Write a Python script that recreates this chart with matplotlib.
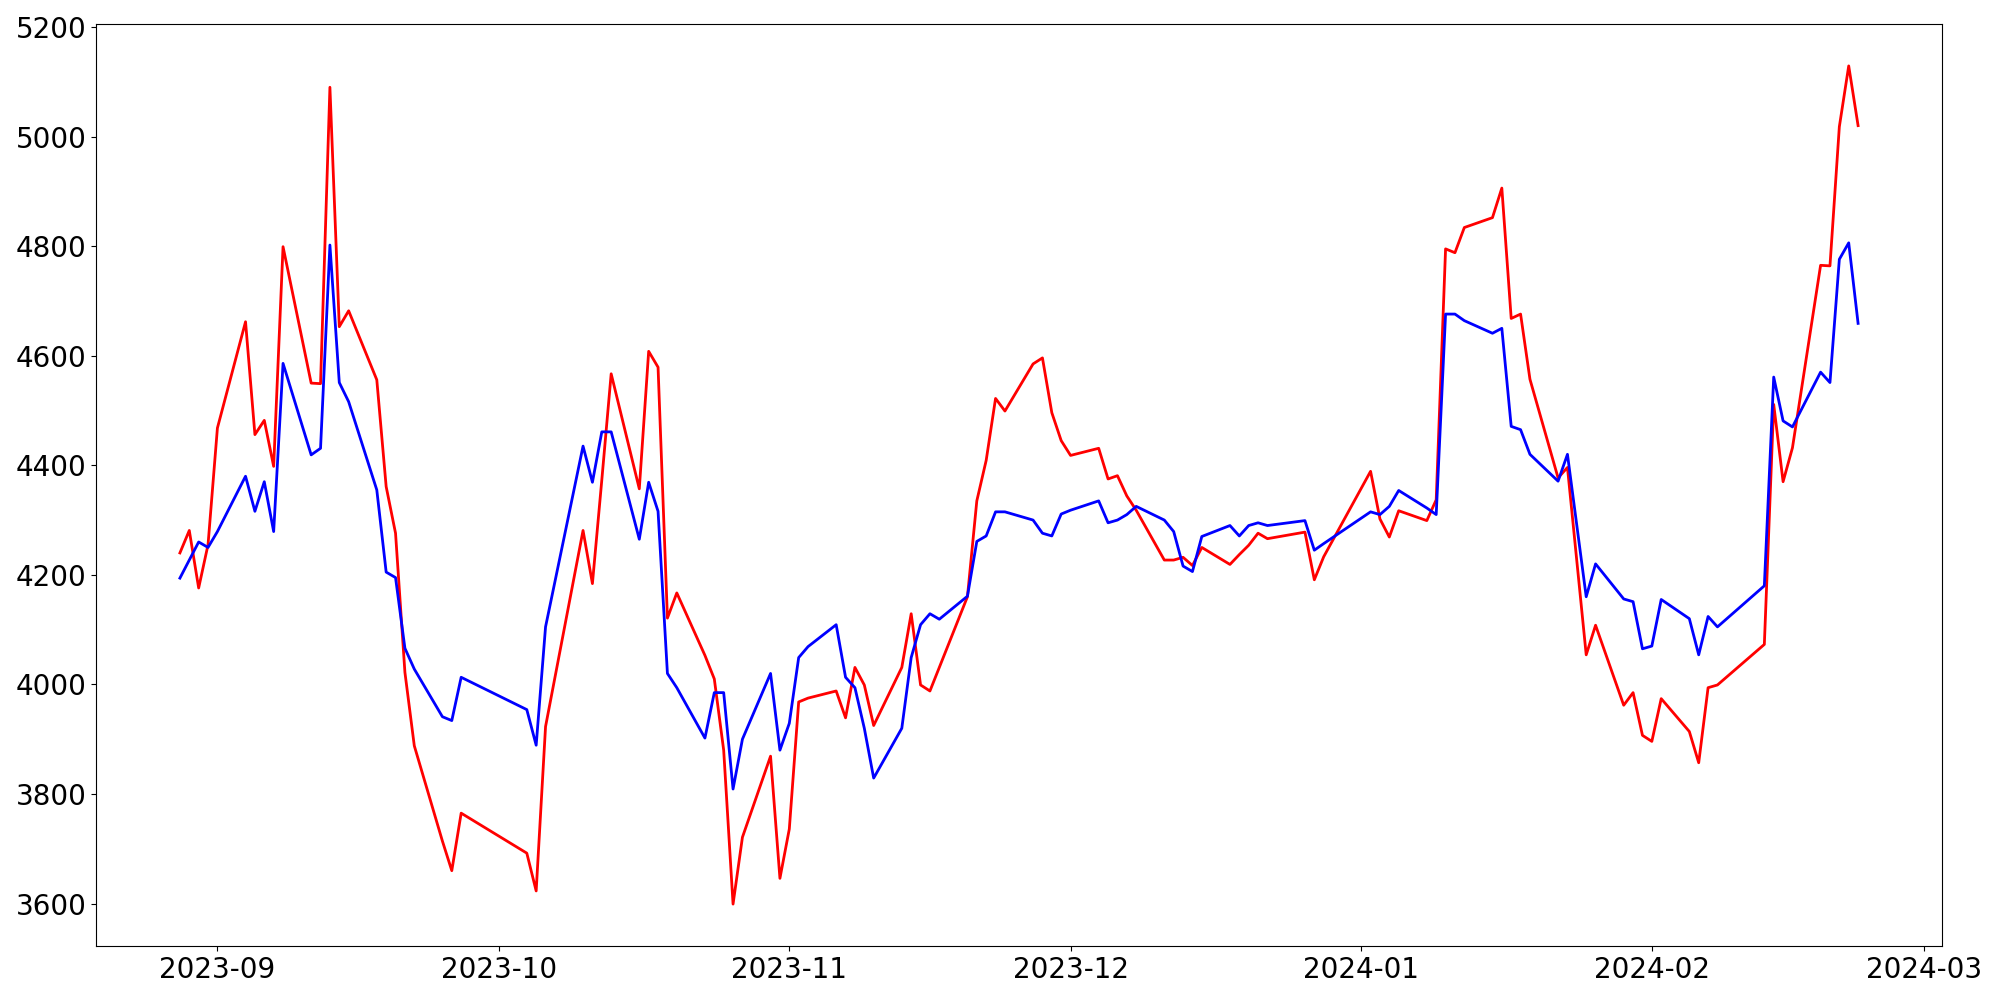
import pandas as pd
import matplotlib
matplotlib.use("Agg")
import matplotlib.pyplot as plt

# trading days (weekdays, some holidays / gaps skipped)
dates = [
    "2023-08-28", "2023-08-29", "2023-08-30", "2023-08-31", "2023-09-01",
    "2023-09-04", "2023-09-05", "2023-09-06", "2023-09-07", "2023-09-08",
    "2023-09-11", "2023-09-12", "2023-09-13", "2023-09-14", "2023-09-15",
    "2023-09-18", "2023-09-19", "2023-09-20", "2023-09-21", "2023-09-22",
    "2023-09-25", "2023-09-26", "2023-09-27",
    "2023-10-04", "2023-10-05", "2023-10-06",
    "2023-10-10", "2023-10-11", "2023-10-12", "2023-10-13",
    "2023-10-16", "2023-10-17", "2023-10-18", "2023-10-19", "2023-10-20",
    "2023-10-23", "2023-10-24", "2023-10-25", "2023-10-26", "2023-10-27",
    "2023-10-30", "2023-10-31", "2023-11-01", "2023-11-02", "2023-11-03",
    "2023-11-06", "2023-11-07", "2023-11-08", "2023-11-09", "2023-11-10",
    "2023-11-13", "2023-11-14", "2023-11-15", "2023-11-16", "2023-11-17",
    "2023-11-20", "2023-11-21", "2023-11-22", "2023-11-23", "2023-11-24",
    "2023-11-27", "2023-11-28", "2023-11-29", "2023-11-30", "2023-12-01",
    "2023-12-04", "2023-12-05", "2023-12-06", "2023-12-07", "2023-12-08",
    "2023-12-11", "2023-12-12", "2023-12-13", "2023-12-14", "2023-12-15",
    "2023-12-18", "2023-12-19", "2023-12-20", "2023-12-21", "2023-12-22",
    "2023-12-26", "2023-12-27", "2023-12-28",
    "2024-01-02", "2024-01-03", "2024-01-04", "2024-01-05",
    "2024-01-08", "2024-01-09", "2024-01-10", "2024-01-11", "2024-01-12",
    "2024-01-15", "2024-01-16", "2024-01-17", "2024-01-18", "2024-01-19",
    "2024-01-22", "2024-01-23", "2024-01-25", "2024-01-26",
    "2024-01-29", "2024-01-30", "2024-01-31", "2024-02-01", "2024-02-02",
    "2024-02-05", "2024-02-06", "2024-02-07", "2024-02-08",
    "2024-02-13", "2024-02-14", "2024-02-15", "2024-02-16",
    "2024-02-19", "2024-02-20", "2024-02-21", "2024-02-22", "2024-02-23",
]

red_vals = [
    4240, 4281, 4176, 4255, 4468,
    4662, 4456, 4482, 4398, 4799,
    4550, 4549, 5090, 4653, 4682,
    4556, 4361, 4276, 4022, 3888,
    3714, 3660, 3765,
    3692, 3623, 3923,
    4281, 4184, 4373, 4567,
    4357, 4608, 4579, 4121, 4167,
    4053, 4010, 3880, 3599, 3721,
    3869, 3646, 3736, 3968, 3975,
    3988, 3939, 4031, 3999, 3925,
    4031, 4129, 3999, 3988, 4031,
    4160, 4335, 4409, 4522, 4499,
    4585, 4596, 4496, 4445, 4418,
    4431, 4375, 4381, 4344, 4318,
    4227, 4227, 4232, 4217, 4250,
    4219, 4237, 4254, 4276, 4266,
    4278, 4191, 4233,
    4389, 4302, 4269, 4317,
    4299, 4337, 4795, 4788, 4834,
    4852, 4906, 4668, 4676, 4557,
    4377, 4396, 4054, 4108,
    3962, 3985, 3907, 3896, 3974,
    3914, 3857, 3994, 3999,
    4073, 4511, 4370, 4432,
    4765, 4764, 5018, 5129, 5020,
]

blue_vals = [
    4194, 4227, 4260, 4250, 4279,
    4380, 4316, 4370, 4279, 4586,
    4419, 4431, 4802, 4551, 4516,
    4355, 4205, 4195, 4066, 4028,
    3941, 3934, 4013,
    3954, 3889, 4105,
    4435, 4369, 4461, 4461,
    4265, 4369, 4316, 4020, 3994,
    3902, 3985, 3985, 3809, 3900,
    4020, 3880, 3929, 4049, 4069,
    4109, 4013, 3994, 3920, 3829,
    3920, 4049, 4109, 4129, 4119,
    4161, 4261, 4271, 4315, 4315,
    4300, 4276, 4271, 4311, 4318,
    4335, 4295, 4300, 4310, 4325,
    4300, 4279, 4216, 4206, 4270,
    4290, 4271, 4290, 4295, 4290,
    4299, 4245, 4257,
    4315, 4310, 4325, 4354,
    4322, 4310, 4676, 4676, 4664,
    4641, 4650, 4471, 4465, 4420,
    4371, 4420, 4160, 4220,
    4156, 4151, 4065, 4070, 4155,
    4120, 4054, 4124, 4105,
    4180, 4561, 4481, 4470,
    4570, 4551, 4776, 4806, 4659,
]

x = pd.to_datetime(dates)

fig, ax = plt.subplots(figsize=(20, 10), dpi=100)
ax.plot(x, red_vals, color="red", linewidth=2)
ax.plot(x, blue_vals, color="blue", linewidth=2)
ax.tick_params(labelsize=20)
plt.subplots_adjust(left=0.048, right=0.971, bottom=0.054, top=0.976)
plt.savefig("out.png", dpi=100)
plt.close()
